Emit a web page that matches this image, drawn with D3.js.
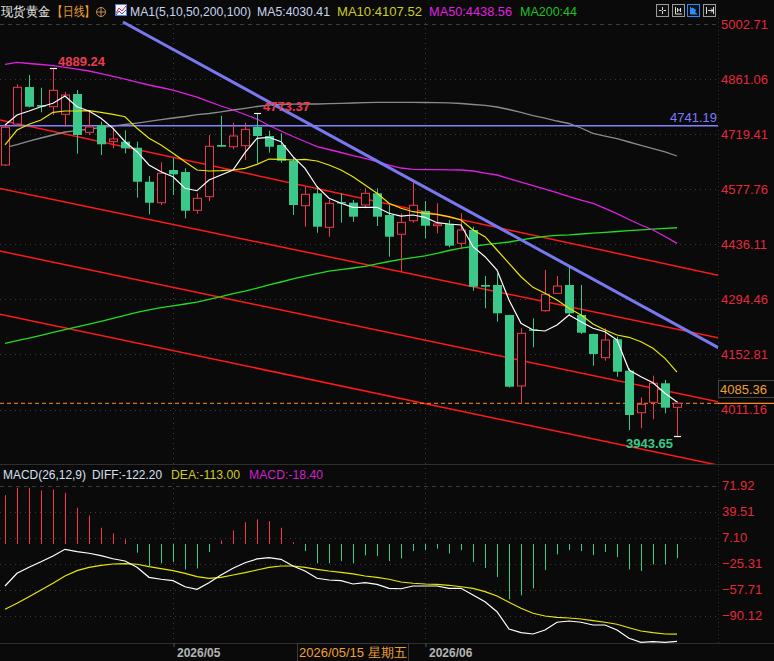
<!DOCTYPE html>
<html>
<head>
<meta charset="UTF-8">
<title>现货黄金 日线</title>
<script src="https://d3js.org/d3.v7.min.js"></script>
<style>
  body { margin: 0; background: #0a0a0a; }
  svg { display: block; font-family: "Liberation Sans", Arial, sans-serif; }
</style>
</head>
<body>
<div id="chart"></div>
<script>
// daily candles, index 0..56 (April .. June 2026)
var open  = [4640,4745.5,4840.6,4794.3,4790,4770.4,4822.6,4724.1,4742.9,4700,4700,4684.5,4597,4543,4627.2,4622,4523.5,4558.5,4691.5,4687,4689.7,4737.8,4714.6,4691.5,4651.1,4535.3,4567.2,4479.8,4544.9,4543.1,4537.1,4567.2,4511.4,4461.8,4496.8,4521.7,4483.9,4488.3,4438.6,4472.8,4331.4,4331.4,4254.2,4071.6,4217.4,4265.3,4310,4331.4,4254.2,4205.4,4144.4,4191.7,4111,4002.9,4029.7,4078.6,4016.8];
var high  = [4743,4847.6,4871.5,4838.8,4889.24,4828.5,4833,4781.5,4751.4,4736,4729.3,4700,4611.7,4647,4658.8,4631.5,4567.2,4717.2,4766.8,4748.8,4748.8,4773.37,4728.3,4721.6,4659.8,4584.2,4586,4551.8,4567.2,4550,4580.1,4580.1,4537.1,4515.8,4594.5,4547.4,4541.5,4498.6,4515.8,4481.3,4354.5,4361.5,4255,4220,4245.7,4370,4354.5,4380.3,4331.4,4206,4220,4198.4,4117.1,4042.6,4098.2,4087.1,4033];
var low   = [4637,4742,4788,4775.6,4768.6,4738.6,4669.1,4717.2,4665.7,4683,4670.1,4555.9,4513.2,4537,4562.9,4502.9,4514.8,4547.4,4687,4680.4,4652.9,4644.4,4671.7,4646,4511.4,4481.3,4465.9,4455.6,4491.6,4494,4528.7,4483.1,4404.2,4366,4491.6,4451.5,4464.4,4428.4,4423.2,4316.7,4271.4,4237,4068,4027.1,4171.2,4262.7,4308.2,4254.2,4205.4,4123.8,4136.7,4095.5,3958.4,3962.8,3986,4001.3,3943.65];
var close = [4737,4839.9,4790,4790,4832,4820,4717.2,4737.8,4693.3,4707,4683,4597,4543,4618.7,4616,4522.5,4554.4,4688.1,4687.1,4714.6,4731.8,4714.6,4687.1,4651.1,4537.1,4564.7,4481.3,4541.5,4541.5,4507.1,4567.2,4507.1,4455.6,4492.6,4536.4,4483.9,4488.3,4432.5,4472.8,4327,4327,4258.6,4069.8,4207.1,4213.8,4307.5,4328.8,4258.6,4208.7,4153.9,4189.9,4108.4,3997,4024.5,4078.6,4015.8,4027.1];

// moving averages
var ma5   = [4742.9,4768.6,4778.9,4790,4798.7,4817.5,4790,4778.9,4760.1,4734.4,4699.9,4674.2,4640,4622.8,4609.9,4580.1,4573.9,4601.4,4614.3,4627.2,4672,4708.7,4711.3,4699.9,4661.4,4631.5,4584.2,4554.4,4541.5,4531.2,4531.2,4531.2,4515.8,4508.8,4511.4,4505.5,4491.6,4488.3,4485.7,4429.9,4404.2,4370,4292.8,4232.9,4215.6,4213.1,4228.5,4254.2,4237,4220,4211.3,4189.9,4112.8,4095.5,4080.1,4052.8,4030.41];
var ma10  = [4691.5,4730,4744.7,4755.8,4775.6,4778.9,4778.9,4779.7,4775.6,4770.4,4764.2,4734.4,4708.7,4691.5,4670.1,4648.5,4627.2,4624.6,4625.4,4627.2,4631.5,4641.8,4655.4,4654.7,4652.9,4654.7,4650.3,4640,4627.2,4609.9,4588.6,4567.2,4541.5,4528.7,4519.9,4515.8,4513.2,4507.1,4498.6,4472.8,4455.6,4421.4,4387.2,4352.7,4325.4,4310,4292.8,4271.4,4254.2,4231.1,4215.6,4202.8,4196.9,4185.5,4168.6,4142.8,4107.52];
var ma50  = [4899,4904.2,4901.1,4898.5,4895.4,4891.3,4886.9,4881.8,4874.8,4868.2,4861.2,4853.5,4845.8,4839.4,4832.9,4823.9,4814.9,4803.3,4791.8,4781.5,4769.9,4758.3,4741.6,4727.5,4713.3,4700.5,4687.1,4679.9,4672.2,4664.4,4657.3,4649,4640,4632.3,4629,4628.4,4627.9,4627.7,4627.2,4624.6,4619.4,4614.3,4605.3,4596.3,4587.3,4578.3,4568.8,4559,4550,4541.5,4528.7,4514.8,4499.9,4485.7,4472.8,4456.1,4438.56];
var ma100 = [4684.5,4692.7,4701.7,4709.5,4717.2,4724.9,4728.7,4732.6,4736.2,4740.3,4744.2,4748,4752.4,4757,4760.9,4764.8,4769.4,4772.5,4776.8,4781.5,4785.9,4790.5,4794.3,4795.6,4796.4,4796.9,4796.9,4797.7,4798.7,4799.5,4800.3,4801,4801.3,4801.3,4801,4800.8,4800.5,4800,4798.2,4795.6,4793.6,4789.2,4782.8,4775.1,4767.3,4760.9,4753.2,4746.8,4735.2,4721.6,4714.6,4707.7,4699.2,4690.7,4682.4,4673.5,4663.2];
var ma200 = [4181.4,4188.1,4194.5,4202,4209.5,4216.9,4223.9,4230.8,4237.8,4245.5,4253.5,4261.2,4267.3,4273.3,4277.9,4282.5,4287.4,4294.4,4301.5,4309.5,4315.9,4323.1,4331.4,4339.1,4347.3,4354.3,4360.7,4366.9,4371,4375.1,4379.5,4385.9,4391.8,4397.2,4401.8,4406.5,4412.9,4420.1,4426.3,4430.4,4435.5,4438.6,4442,4447.6,4452.3,4456.6,4459.2,4460.2,4462.6,4464.6,4466.9,4469,4471,4473.1,4475.1,4476.9,4478.7];

// MACD(26,12,9)
var diff = [-53.1,-37.3,-29.8,-22.8,-15.7,-7.4,-10.3,-12.3,-15.3,-19.1,-21.9,-29.8,-42.3,-44.7,-46.5,-54,-57.2,-49,-39.4,-31,-24.1,-19.4,-17.8,-19.8,-28.2,-34.4,-43.5,-45.6,-46.5,-50.6,-49,-51,-56,-56.5,-53.1,-53.1,-53.1,-56,-56,-64.3,-72.7,-85.1,-106.7,-111.3,-112.9,-107.9,-98.3,-96.7,-98.3,-101.7,-101.7,-107.9,-118.3,-123.3,-122.5,-123.3,-122.2];
var dea  = [-82.1,-74.7,-66.4,-58.1,-49.7,-40.6,-34,-29.8,-27.3,-25.7,-25.3,-26,-29,-31.5,-34,-37.3,-41.5,-43.5,-42.3,-39.4,-36.5,-33.2,-29.8,-28.2,-28.2,-29.8,-32.3,-34.4,-36,-38.1,-40.6,-42.3,-44.7,-48.1,-49.7,-50.6,-51,-52.2,-54,-56,-60.2,-65.6,-73.4,-80.9,-87.1,-90.5,-92.1,-93,-94.2,-96.3,-98.3,-100.8,-105.1,-109.2,-111.3,-112.9,-113];
var macd = [60.2,69.4,69.4,66.1,67.3,63.2,44.5,34.9,19.6,12.5,5,-11.6,-28.3,-24.9,-23.3,-32.4,-31.2,-10.8,3.7,16.2,26.5,29.9,27.8,19.6,1.5,-9.6,-24.9,-24.9,-22.1,-24.9,-15,-15.8,-22.1,-18.7,-9.6,-8.4,-6.6,-12.5,-8.4,-23.3,-30.8,-42,-69.8,-64.8,-56.1,-33.3,-13.7,-8.4,-9.6,-14.6,-10.8,-17.1,-32.4,-34.5,-26.2,-26.2,-18.4];

var priceTicks = [5002.71,4861.06,4719.41,4577.76,4436.11,4294.46,4152.81,4011.16];
var macdTicks  = [71.92,39.51,7.10,-25.31,-57.71,-90.12];
var monthStart  = [14, 35];
var monthLabels = ["2026/05", "2026/06"];

// channel lines [index, price] -> [index, price]
var channel = [
  [[-0.5, 4756.3], [59.5, 4356.1]],
  [[-0.5, 4580.3], [59.5, 4195.3]],
  [[-0.5, 4419.3], [59.5, 4030.5]],
  [[-0.5, 4256.6], [59.5, 3867.6]]
];
var downTrend = [[9.83, 5007.8], [59.5, 4169.1]];
var hLine = 4741.19;

var W = 774, H = 661;
var red = "#ec3a50", green = "#3cc88a", bg = "#0a0a0a";

var svg = d3.select("#chart").append("svg")
  .attr("width", W).attr("height", H)
  .style("background", bg);

var x = d3.scaleLinear().domain([0, 56]).range([5, 677]);
var y = d3.scaleLinear().domain([4011.16, 5002.71]).range([409.5, 24]);
var ym = d3.scaleLinear().domain([-90.12, 71.92]).range([615.7, 485.7]);

svg.append("defs").append("clipPath").attr("id", "mainClip")
  .append("rect").attr("x", 0).attr("y", 18).attr("width", 718).attr("height", 446);
svg.select("defs").append("clipPath").attr("id", "macdClip")
  .append("rect").attr("x", 0).attr("y", 482).attr("width", 718).attr("height", 161);

// grid
var grid = svg.append("g");
priceTicks.forEach(function(t, k) {
  grid.append("line").attr("x1", 0).attr("x2", 718)
    .attr("y1", Math.round(y(t)) + 0.5).attr("y2", Math.round(y(t)) + 0.5)
    .attr("stroke", "#3c3c3c").attr("stroke-dasharray", k == 0 ? "4,4" : "1,4");
});
macdTicks.forEach(function(t, k) {
  grid.append("line").attr("x1", 0).attr("x2", 718)
    .attr("y1", Math.round(ym(t)) + 0.5).attr("y2", Math.round(ym(t)) + 0.5)
    .attr("stroke", "#3c3c3c").attr("stroke-dasharray", k == 0 ? "4,4" : "1,4");
});
monthStart.forEach(function(i) {
  grid.append("line").attr("x1", x(i) + 0.5).attr("x2", x(i) + 0.5)
    .attr("y1", 18).attr("y2", 643)
    .attr("stroke", "#3c3c3c").attr("stroke-dasharray", "1,4");
});
grid.append("line").attr("x1", 718.5).attr("x2", 718.5).attr("y1", 18).attr("y2", 643)
  .attr("stroke", "#333").attr("stroke-dasharray", "1,3");
// panel borders
svg.append("line").attr("x1", 0).attr("x2", W).attr("y1", 464.5).attr("y2", 464.5).attr("stroke", "#2e2e2e");
svg.append("line").attr("x1", 0).attr("x2", W).attr("y1", 643.5).attr("y2", 643.5).attr("stroke", "#2e2e2e");

// ---------- main panel
var main = svg.append("g").attr("clip-path", "url(#mainClip)");

var line = function(sc, arr) {
  return d3.line().x(function(d, i) { return x(i); }).y(function(d) { return sc(d); })(arr);
};

channel.forEach(function(c) {
  main.append("line")
    .attr("x1", x(c[0][0])).attr("y1", y(c[0][1]))
    .attr("x2", x(c[1][0])).attr("y2", y(c[1][1]))
    .attr("stroke", "#ff1a1a").attr("stroke-width", 1.5);
});

main.append("path").attr("d", line(y, ma200)).attr("fill", "none").attr("stroke", "#22dd22").attr("stroke-width", 1.3);
main.append("path").attr("d", line(y, ma100)).attr("fill", "none").attr("stroke", "#8a8a8a").attr("stroke-width", 1.3);
main.append("path").attr("d", line(y, ma50)).attr("fill", "none").attr("stroke", "#e020e0").attr("stroke-width", 1.3);

main.append("line").attr("x1", 0).attr("x2", 718)
  .attr("y1", y(hLine)).attr("y2", y(hLine))
  .attr("stroke", "#8282ff").attr("stroke-width", 1.5);

main.append("line")
  .attr("x1", x(downTrend[0][0])).attr("y1", y(downTrend[0][1]))
  .attr("x2", x(downTrend[1][0])).attr("y2", y(downTrend[1][1]))
  .attr("stroke", "#7878f0").attr("stroke-width", 3);

// last close line
main.append("line").attr("x1", 0).attr("x2", 718)
  .attr("y1", y(close[56])).attr("y2", y(close[56]))
  .attr("stroke", "#ff8c1a").attr("stroke-dasharray", "4,3");

// candles
var candles = main.append("g");
open.forEach(function(o, i) {
  var c = close[i], cx = Math.round(x(i)) + 0.5;
  var up = c > o;
  var col = up ? red : green;
  var top = y(Math.max(o, c)), bot = y(Math.min(o, c));
  if (up) {
    candles.append("line").attr("x1", cx).attr("x2", cx).attr("y1", y(high[i])).attr("y2", top).attr("stroke", col);
    candles.append("line").attr("x1", cx).attr("x2", cx).attr("y1", bot).attr("y2", y(low[i])).attr("stroke", col);
    candles.append("rect").attr("x", cx - 4).attr("y", top).attr("width", 8).attr("height", Math.max(1, bot - top))
      .attr("fill", bg).attr("stroke", col);
  } else {
    candles.append("line").attr("x1", cx).attr("x2", cx).attr("y1", y(high[i])).attr("y2", y(low[i])).attr("stroke", col);
    candles.append("rect").attr("x", cx - 4.5).attr("y", top).attr("width", 9).attr("height", Math.max(1.5, bot - top))
      .attr("fill", col);
  }
});

main.append("path").attr("d", line(y, ma10)).attr("fill", "none").attr("stroke", "#e8e800").attr("stroke-width", 1.2);
main.append("path").attr("d", line(y, ma5)).attr("fill", "none").attr("stroke", "#ffffff").attr("stroke-width", 1.2);

// extreme marks
[[4, high[4]], [21, high[21]], [56, low[56]]].forEach(function(m) {
  main.append("line").attr("x1", x(m[0]) - 3).attr("x2", x(m[0]) + 4)
    .attr("y1", Math.round(y(m[1])) + 0.5).attr("y2", Math.round(y(m[1])) + 0.5)
    .attr("stroke", "#fff").attr("stroke-width", 1.2);
});
main.append("text").attr("x", x(4) + 5).attr("y", y(high[4]) - 2.5)
  .attr("fill", red).attr("font-size", 13).attr("font-weight", "bold").text(d3.format(".2f")(high[4]));
main.append("text").attr("x", x(21) + 6).attr("y", y(high[21]) - 2.5)
  .attr("fill", red).attr("font-size", 13).attr("font-weight", "bold").text(d3.format(".2f")(high[21]));
main.append("text").attr("x", x(56) - 4).attr("y", y(low[56]) + 12).attr("text-anchor", "end")
  .attr("fill", green).attr("font-size", 13).attr("font-weight", "bold").text(d3.format(".2f")(low[56]));
main.append("text").attr("x", 717).attr("y", y(hLine) - 3.5).attr("text-anchor", "end")
  .attr("fill", "#7b7bff").attr("font-size", 13).text(d3.format(".2f")(hLine));

// price axis
var yAxis = d3.axisRight(y).tickValues(priceTicks).tickSize(0).tickPadding(0).tickFormat(d3.format(".2f"));
svg.append("g").attr("transform", "translate(721,0)").call(yAxis)
  .call(function(g) { g.select(".domain").remove(); })
  .selectAll("text").attr("fill", "#e3283c").attr("font-size", 13)
  .attr("font-family", "'Liberation Sans', Arial, sans-serif");

// current price box
svg.append("rect").attr("x", 718.5).attr("y", Math.round(y(4085.36)) - 0.5).attr("width", 60).attr("height", 17)
  .attr("fill", "#0a0a0a").attr("stroke", "#444");
svg.append("text").attr("x", 720).attr("y", y(4085.36) + 13)
  .attr("fill", "#f0a030").attr("font-size", 13).text("4085.36");
svg.append("line").attr("x1", 718).attr("x2", W).attr("y1", y(close[56])).attr("y2", y(close[56]))
  .attr("stroke", "#ff8c1a").attr("stroke-width", 1.2);

// ---------- MACD panel
var mp = svg.append("g").attr("clip-path", "url(#macdClip)");
macd.forEach(function(v, i) {
  mp.append("line").attr("x1", Math.round(x(i)) + 0.5).attr("x2", Math.round(x(i)) + 0.5)
    .attr("y1", Math.round(ym(0)) + 1).attr("y2", ym(v))
    .attr("stroke", v >= 0 ? "#ff3048" : "#38d080").attr("stroke-width", 1);
});
mp.append("path").attr("d", line(ym, dea)).attr("fill", "none").attr("stroke", "#e8e800").attr("stroke-width", 1.2);
mp.append("path").attr("d", line(ym, diff)).attr("fill", "none").attr("stroke", "#ffffff").attr("stroke-width", 1.2);

var mAxis = d3.axisRight(ym).tickValues(macdTicks).tickSize(0).tickPadding(0).tickFormat(d3.format(".2f"));
svg.append("g").attr("transform", "translate(722,0)").call(mAxis)
  .call(function(g) { g.select(".domain").remove(); })
  .selectAll("text").attr("fill", "#e3283c").attr("font-size", 13)
  .attr("font-family", "'Liberation Sans', Arial, sans-serif");

// ---------- date axis
var xAxis = d3.axisBottom(x).tickValues(monthStart).tickSize(4).tickPadding(0)
  .tickFormat(function(d, k) { return monthLabels[k]; });
var xa = svg.append("g").attr("transform", "translate(0.5,643)").call(xAxis);
xa.select(".domain").remove();
xa.selectAll("line").attr("stroke", "#555");
xa.selectAll("text").attr("fill", "#b4b4b4").attr("font-size", 12).attr("font-weight", "bold")
  .attr("text-anchor", "start").attr("dx", 3).attr("dy", 0).attr("y", 14)
  .attr("font-family", "'Liberation Sans', Arial, sans-serif");

svg.append("rect").attr("x", x(24) + 4.5).attr("y", 643.5).attr("width", 111).attr("height", 18)
  .attr("fill", "#0a0a0a").attr("stroke", "#3a3a3a");
svg.append("text").attr("x", x(24) + 6).attr("y", 657)
  .attr("fill", "#f0a030").attr("font-size", 13).text("2026/05/15 星期五");

// ---------- headers
function seg(parent, px, width, col, txt) {
  parent.append("tspan").attr("x", px).attr("fill", col)
    .attr("textLength", width).attr("lengthAdjust", "spacingAndGlyphs").text(txt);
}
var hdr = svg.append("text").attr("y", 16).attr("font-size", 13);
seg(hdr, 1, 49, "#e6e6e6", "现货黄金");
seg(hdr, 52, 43, "#f0a030", "【日线】");
svg.append("circle").attr("cx", 101).attr("cy", 12).attr("r", 4.5).attr("fill", "none").attr("stroke", "#c88a50");
svg.append("path").attr("d", "M96.5,12H105.5M101,7.5V16.5").attr("stroke", "#c88a50");
svg.append("rect").attr("x", 115.5).attr("y", 4.5).attr("width", 11).attr("height", 11).attr("fill", "#f4f4f4").attr("stroke", "#5a7ad0");
svg.append("polyline").attr("points", "116,13 119,8 122,11 126,6").attr("fill", "none").attr("stroke", "#e03030");
svg.append("polyline").attr("points", "116,15 119,11 122,14 126,10").attr("fill", "none").attr("stroke", "#3050e0");
var hdr2 = svg.append("text").attr("y", 16).attr("font-size", 13);
seg(hdr2, 130, 121, "#c8d4ee", "MA1(5,10,50,200,100)");
seg(hdr2, 257, 73, "#c8d4ee", "MA5:4030.41");
seg(hdr2, 337, 85, "#cccc22", "MA10:4107.52");
seg(hdr2, 429, 83, "#e020e0", "MA50:4438.56");
seg(hdr2, 520, 57, "#22c022", "MA200:44");

var mh = svg.append("text").attr("y", 479).attr("font-size", 12.5);
seg(mh, 3, 83, "#d8e0f0", "MACD(26,12,9)");
seg(mh, 92, 70, "#d8e0f0", "DIFF:-122.20");
seg(mh, 171, 69, "#cccc22", "DEA:-113.00");
seg(mh, 249, 74, "#d020d0", "MACD:-18.40");

// toolbar icons
[656, 672, 687, 703].forEach(function(px, k) {
  svg.append("rect").attr("x", px + 0.5).attr("y", 4.5).attr("width", 12).attr("height", 12)
    .attr("fill", "#111").attr("stroke", k == 2 ? "#2a8cff" : "#9a9a9a");
});
svg.append("path").attr("d", "M662.5,7V10M662.5,11V14M659,10.5H661.5M663.5,10.5H666").attr("stroke", "#ddd");
svg.append("path").attr("d", "M675.5,7V14H682M677.5,8V12M680.5,8V12M677.5,10H680.5").attr("stroke", "#ddd").attr("fill", "none");
svg.append("path").attr("d", "M690.5,7V14H697M692.5,8V13L696,10.5Z").attr("stroke", "#2a8cff").attr("fill", "#2a8cff");
svg.append("path").attr("d", "M706.5,7V14M708,10.5H713M711,8.5L713,10.5L711,12.5M713.5,7V14").attr("stroke", "#ddd").attr("fill", "none");
</script>
</body>
</html>
